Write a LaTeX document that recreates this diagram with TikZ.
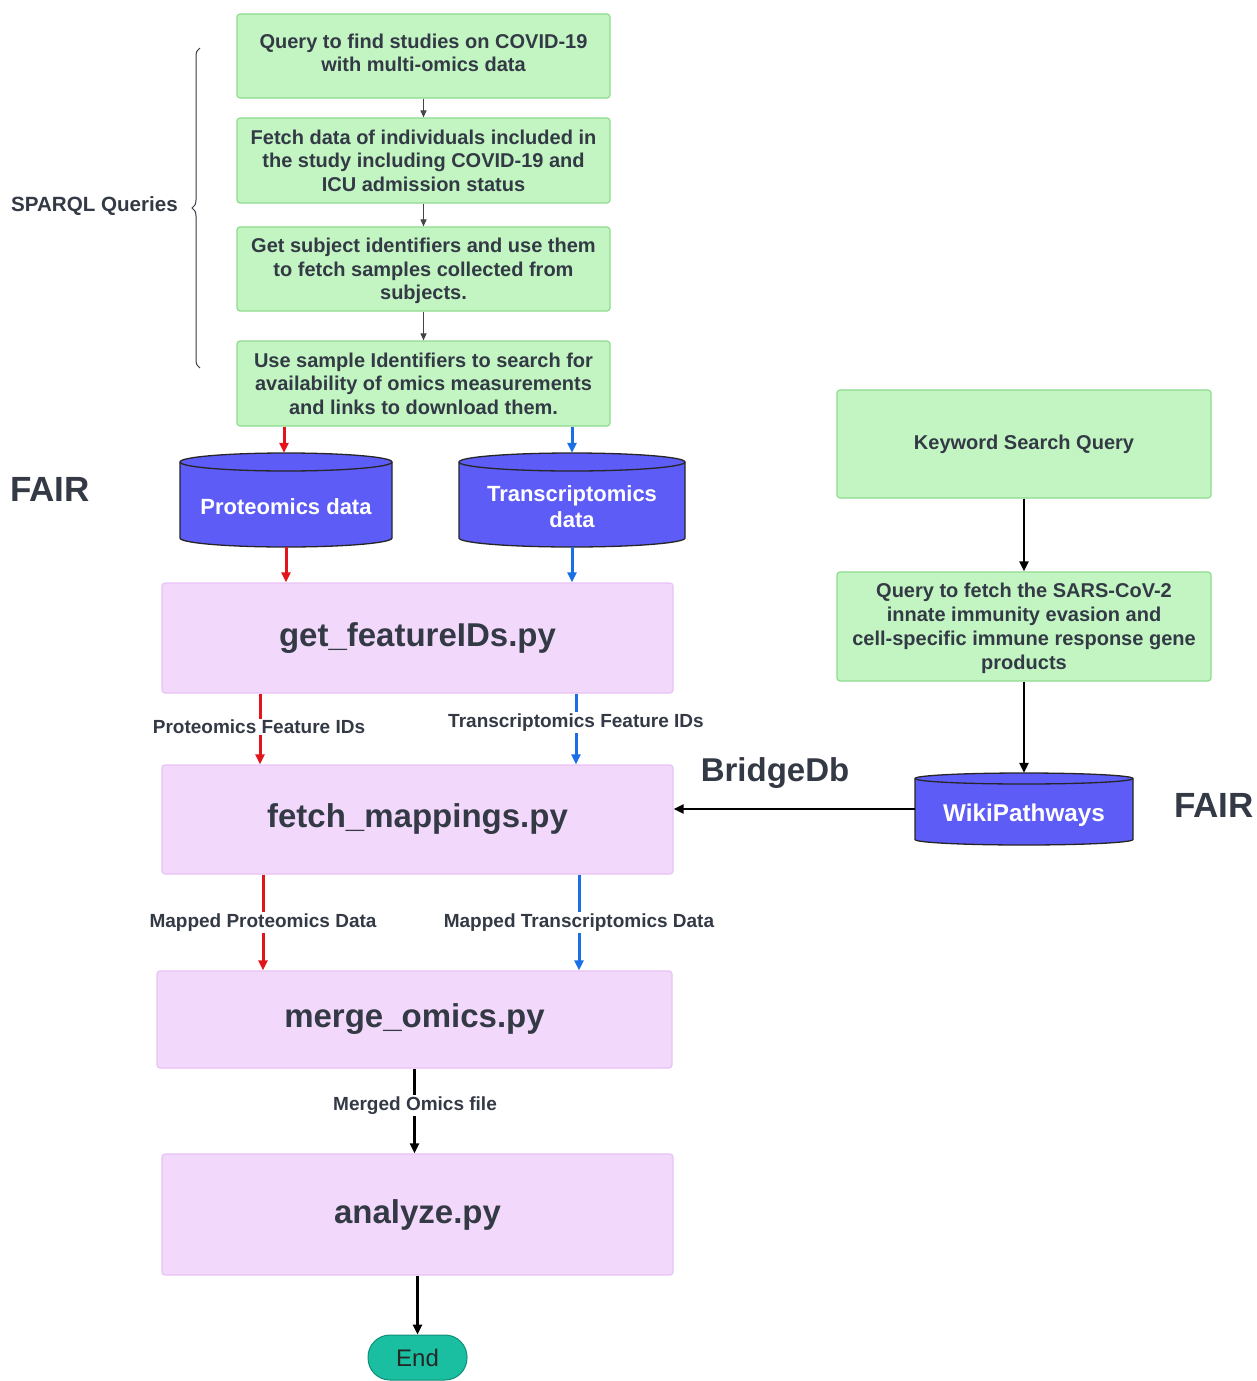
\documentclass[tikz,border=0pt]{standalone}
\usepackage{fontspec}
\setmainfont{Liberation Sans}
\usetikzlibrary{arrows.meta,decorations.pathreplacing,calc}
\definecolor{gfill}{HTML}{C3F5C3}
\definecolor{gborder}{HTML}{8EDB8E}
\definecolor{pfill}{HTML}{F2D9FB}
\definecolor{pborder}{HTML}{E8C3F5}
\definecolor{cylfill}{HTML}{5E5CF7}
\definecolor{txt}{HTML}{333A45}
\definecolor{arred}{HTML}{E3141B}
\definecolor{arblue}{HTML}{1A6EE6}
\definecolor{endfill}{HTML}{19BFA0}
\definecolor{endborder}{HTML}{0E8F78}
\definecolor{thing}{HTML}{444444}
\newcommand\drawcyl[5]{%
  \pgfmathsetmacro\cylrx{(#2-#1)/2}%
  \draw[cylstyle] (#1,#3+#5) -- (#1,#4-#5) arc[start angle=180,end angle=360,x radius=\cylrx pt,y radius=#5pt] -- (#2,#3+#5) arc[start angle=0,end angle=180,x radius=\cylrx pt,y radius=#5pt] -- cycle;
  \draw[cylline] (#2,#3+#5) arc[start angle=360,end angle=180,x radius=\cylrx pt,y radius=#5pt];
}
\begin{document}
\begin{tikzpicture}[x=1pt,y=-1pt,
  greenbox/.style={rectangle,rounded corners=3pt,fill=gfill,draw=gborder,line width=1.2pt,text=txt,align=center,inner sep=0pt,font=\bfseries\fontsize{20}{23.5}\selectfont},
  pinkbox/.style={rectangle,rounded corners=3pt,fill=pfill,draw=pborder,line width=1.2pt,text=txt,align=center,inner sep=0pt,font=\bfseries\fontsize{33}{38}\selectfont,minimum width=511pt},
  cylstyle/.style={fill=cylfill,draw=black!85,line width=1.3pt},
  cylline/.style={draw=black!85,line width=1.3pt},
  cyltext/.style={text=white,align=center,inner sep=0pt,font=\bfseries\fontsize{22}{26}\selectfont},
  redarr/.style={draw=arred,line width=3pt,-{Triangle[width=9pt,length=10pt]}},
  bluearr/.style={draw=arblue,line width=3pt,-{Triangle[width=9pt,length=10pt]}},
  blackarr/.style={draw=black,line width=2.6pt,-{Triangle[width=9pt,length=10pt]}},
  thinarr/.style={draw=thing,line width=1.1pt,-{Triangle[width=6pt,length=7pt]}},
  lbl/.style={fill=white,inner sep=1.5pt,text=txt,font=\bfseries\fontsize{19}{22}\selectfont},
  plain/.style={text=txt,inner sep=0pt,font=\bfseries\fontsize{#1}{#1}\selectfont}
]
\useasboundingbox[fill=white] (0,0) rectangle (1257,1381);

% SPARQL query chain
\node[greenbox,minimum width=373pt,minimum height=84pt,text depth=6pt] (q1) at (423.5,56)
  {Query to find studies on COVID-19\\with multi-omics data};
\node[greenbox,minimum width=373pt,minimum height=85pt] (q2) at (423.5,160.5)
  {Fetch data of individuals included in\\the study including COVID-19 and\\ICU admission status};
\node[greenbox,minimum width=373pt,minimum height=84pt,text depth=0pt] (q3) at (423.5,269)
  {Get subject identifiers and use them\\to fetch samples collected from\\subjects.};
\node[greenbox,minimum width=373pt,minimum height=85pt] (q4) at (423.5,383.5)
  {Use sample Identifiers to search for\\availability of omics measurements\\and links to download them.};
\draw[thinarr] (q1.south) -- (q2.north);
\draw[thinarr] (q2.south) -- (q3.north);
\draw[thinarr] (q3.south) -- (q4.north);

% brace
\coordinate (bt) at (200,48);
\coordinate (bb) at (200,368);
\draw[draw=txt,line width=1pt,decorate,decoration={brace,amplitude=8pt}] (bb) -- (bt);
\node[plain=20.6,anchor=east] (sparql) at (178,206) {SPARQL Queries};
\node[plain=35] (fair1) at (50,489) {FAIR};

% cylinders
\drawcyl{180}{392}{453}{547}{9}
\drawcyl{459}{685}{453}{547}{9}
\drawcyl{915}{1133}{773}{845}{5.5}
\node[cyltext,minimum width=212pt,minimum height=94pt] (prot) at (286,500) {};
\node[cyltext] (prottxt) at (286,507) {Proteomics data};
\node[cyltext,minimum width=226pt,minimum height=94pt] (trans) at (572,500) {};
\node[cyltext] (transtxt) at (572,507) {Transcriptomics\\data};
\node[cyltext,minimum width=218pt,minimum height=72pt] (wiki) at (1024,809) {};
\node[cyltext,font=\bfseries\fontsize{24.3}{26}\selectfont] (wikitxt) at (1024,815) {WikiPathways};

% python boxes
\node[pinkbox,minimum height=110pt] (gf) at (417.5,638) {get\_featureIDs.py};
\node[pinkbox,minimum height=109pt] (fm) at (417.5,819.5) {fetch\_mappings.py};
\node[pinkbox,minimum width=515pt,minimum height=97pt] (mo) at (414.5,1019.5) {merge\_omics.py};
\node[pinkbox,minimum height=121pt] (an) at (417.5,1214.5) {analyze.py};
\node[rectangle,rounded corners=22pt,fill=endfill,draw=endborder,line width=1pt,minimum width=99pt,minimum height=45pt,inner sep=0pt,text=black!85,font=\fontsize{24}{24}\selectfont] (endn) at (417.5,1357.5) {End};

% right column
\node[greenbox,minimum width=374pt,minimum height=108pt] (kw) at (1024,444) {Keyword Search Query};
\node[greenbox,minimum width=374pt,minimum height=109pt,text depth=0pt,font=\bfseries\fontsize{20}{24}\selectfont] (qf) at (1024,626.5)
  {Query to fetch the SARS-CoV-2\\innate immunity evasion and\\cell-specific immune response gene\\products};
\draw[blackarr] (kw.south) -- (qf.north);
\draw[blackarr] (qf.south) -- (wiki.north);
\draw[blackarr] (wiki.west) -- (fm.east |- wiki.west);
\node[plain=33] (bridge) at (775,773) {BridgeDb};
\node[plain=35] (fair2) at (1214,805) {FAIR};

% colored flows
\coordinate (xr0) at (284,0);
\coordinate (xb0) at (572,0);
\coordinate (xr1) at (260,0);
\coordinate (xb1) at (576,0);
\coordinate (xr2) at (263,0);
\coordinate (xb2) at (579,0);
\draw[redarr] (q4.south -| xr0) -- (prot.north -| xr0);
\draw[bluearr] (q4.south -| xb0) -- (trans.north);
\draw[redarr] (prot.south) -- (gf.north -| prot.south);
\draw[bluearr] (trans.south) -- (gf.north -| trans.south);
\draw[redarr] (gf.south -| xr1) -- (fm.north -| xr1);
\draw[bluearr] (gf.south -| xb1) -- (fm.north -| xb1);
\draw[redarr] (fm.south -| xr2) -- (mo.north -| xr2);
\draw[bluearr] (fm.south -| xb2) -- (mo.north -| xb2);
\draw[blackarr] (mo.south) -- (an.north -| mo.south);
\draw[blackarr] (an.south) -- (endn.north);

\node[lbl] (l1) at (259,727) {Proteomics Feature IDs};
\node[lbl] (l2) at (576,722.5) {Transcriptomics Feature IDs};
\node[lbl] (l3) at (263,922.5) {Mapped Proteomics Data};
\node[lbl] (l4) at (579,922.5) {Mapped Transcriptomics Data};
\node[lbl] (l5) at (415,1105.5) {Merged Omics file};
\end{tikzpicture}
\end{document}
